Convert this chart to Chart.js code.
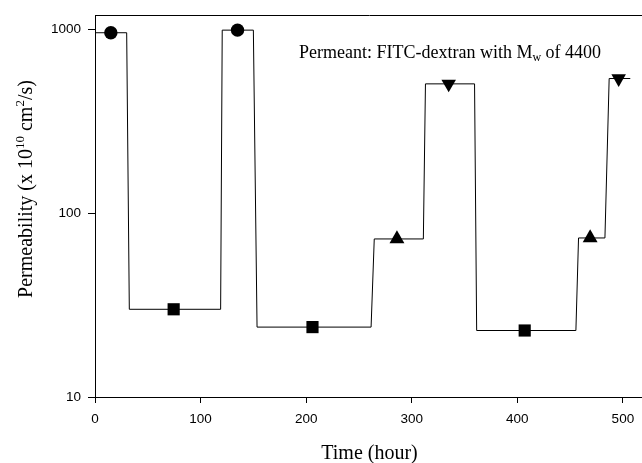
<!DOCTYPE html>
<html>
<head>
<meta charset="utf-8">
<script src="https://cdn.jsdelivr.net/npm/chart.js@4"></script>
<style>
  html, body { margin: 0; padding: 0; background: #fff; overflow: hidden; }
  #wrap { width: 660px; height: 463px; }
</style>
</head>
<body>
<div id="wrap"><canvas id="chart" width="660" height="463"></canvas></div>
<script>
// step trace (time in hours, permeability x 1e10 cm2/s)
const lineTime  = [0, 30, 32.5, 119, 120.5, 150, 153.5, 261.5, 264.5, 311, 313, 359.5, 361.5, 455.5, 458, 483, 487, 507];
const lineValue = [958, 958, 30, 30, 990, 990, 24, 24, 72.4, 72.4, 505, 505, 23, 23, 73.3, 73.3, 540, 540];

// markers
const circleTime = [15, 135];
const circleValue = [958, 990];
const squareTime = [74.5, 206, 407];
const squareValue = [30, 24, 23];
const upTime = [286, 469];
const upValue = [72.4, 73.3];
const downTime = [335, 496];
const downValue = [505, 540];

const xTicks = [0, 100, 200, 300, 400, 500];
const yTicks = [10, 100, 1000];

const SERIF = "'Liberation Serif', 'Times New Roman', serif";
const SANS = "'Liberation Sans', Arial, sans-serif";

const pts = (xs, ys) => xs.map((x, i) => ({ x, y: ys[i] }));

function drawRuns(ctx, runs, x, y) {
  // runs: [text, size, dy]
  let cx = x;
  runs.forEach(([t, size, dy]) => {
    ctx.font = size + 'px ' + SERIF;
    ctx.fillText(t, cx, y + dy);
    cx += ctx.measureText(t).width;
  });
}

function runsWidth(ctx, runs) {
  let w = 0;
  runs.forEach(([t, size]) => {
    ctx.font = size + 'px ' + SERIF;
    w += ctx.measureText(t).width;
  });
  return w;
}

const textPlugin = {
  id: 'texts',
  afterDraw(chart) {
    const ctx = chart.ctx;
    const area = chart.chartArea;
    ctx.save();
    ctx.fillStyle = '#000';
    ctx.textBaseline = 'alphabetic';
    ctx.textAlign = 'left';

    // top frame line
    ctx.strokeStyle = '#000';
    ctx.lineWidth = 1;
    ctx.beginPath();
    ctx.moveTo(area.left, Math.round(area.top) + 0.5);
    ctx.lineTo(area.right, Math.round(area.top) + 0.5);
    ctx.stroke();

    // annotation
    drawRuns(ctx, [
      ['Permeant: FITC-dextran with M', 18, 0],
      ['w', 12, 3],
      [' of 4400', 18, 0]
    ], 299, 58);

    // x title
    const xt = [['Time (hour)', 20, 0]];
    drawRuns(ctx, xt, (area.left + area.right) / 2 - runsWidth(ctx, xt) / 2, 459);

    // y title
    const yt = [
      ['Permeability (x 10', 20, 0],
      ['10', 13, -8],
      [' cm', 20, 0],
      ['2', 13, -8],
      ['/s)', 20, 0]
    ];
    ctx.translate(32, 189);
    ctx.rotate(-Math.PI / 2);
    drawRuns(ctx, yt, -runsWidth(ctx, yt) / 2, 0);
    ctx.restore();
  }
};

const markerBase = { showLine: false, backgroundColor: '#000', borderColor: '#000', borderWidth: 0, order: 1 };

new Chart(document.getElementById('chart'), {
  type: 'scatter',
  data: {
    datasets: [
      { ...markerBase, data: pts(circleTime, circleValue), pointStyle: 'circle', pointRadius: 6.7 },
      { ...markerBase, data: pts(squareTime, squareValue), pointStyle: 'rect', pointRadius: 8.6 },
      { ...markerBase, data: pts(upTime, upValue), pointStyle: 'triangle', pointRadius: 8.6 },
      { ...markerBase, data: pts(downTime, downValue), pointStyle: 'triangle', pointRotation: 180, pointRadius: 8.4 },
      {
        data: pts(lineTime, lineValue),
        showLine: true,
        borderColor: '#000',
        borderWidth: 1,
        pointRadius: 0,
        tension: 0,
        order: 2
      }
    ]
  },
  options: {
    responsive: false,
    animation: false,
    devicePixelRatio: 1,
    layout: { padding: { left: 0, top: 14, right: 16, bottom: 0 } },
    plugins: { legend: { display: false }, tooltip: { enabled: false } },
    scales: {
      x: {
        type: 'linear',
        min: 0,
        max: 520,
        afterBuildTicks: s => { s.ticks = xTicks.map(v => ({ value: v })); },
        afterFit: s => { s.height = 66; },
        grid: { display: true, drawOnChartArea: false, drawTicks: true, tickLength: 6, color: '#000' },
        border: { display: true, color: '#000', width: 1 },
        ticks: { color: '#000', padding: 8, maxRotation: 0, font: { family: SANS, size: 13.5 } }
      },
      y: {
        type: 'logarithmic',
        min: 10,
        max: 1195,
        afterBuildTicks: s => { s.ticks = yTicks.map(v => ({ value: v })); },
        afterFit: s => { s.width = 95; },
        grid: { display: true, drawOnChartArea: false, drawTicks: true, tickLength: 7, color: '#000' },
        border: { display: true, color: '#000', width: 1 },
        ticks: { color: '#000', padding: 7, font: { family: SANS, size: 13.5 }, callback: v => String(v) }
      }
    }
  },
  plugins: [textPlugin]
});
</script>
</body>
</html>
